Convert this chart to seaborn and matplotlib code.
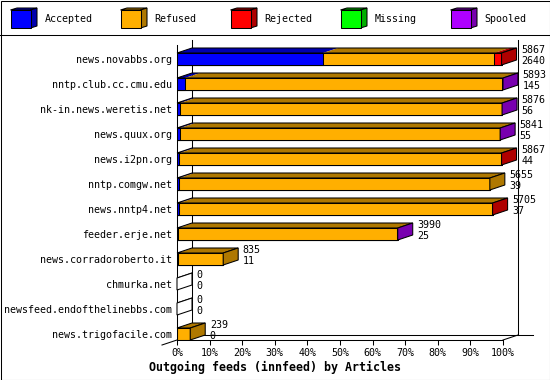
import numpy as np
import pandas as pd
import matplotlib
matplotlib.use("Agg")
import matplotlib.pyplot as plt
import seaborn as sns
from matplotlib.patches import Polygon, Rectangle
from matplotlib.lines import Line2D

# ---------------- data ----------------
hosts = ["news.novabbs.org", "nntp.club.cc.cmu.edu", "nk-in.news.weretis.net",
         "news.quux.org", "news.i2pn.org", "nntp.comgw.net", "news.nntp4.net",
         "feeder.erje.net", "news.corradoroberto.it", "chmurka.net",
         "newsfeed.endofthelinebbs.com", "news.trigofacile.com"]
accepted = [2640, 145, 56, 55, 44, 39, 37, 25, 11, 0, 0, 0]
refused  = [3097, 5723, 5815, 5783, 5818, 5616, 5663, 3960, 824, 0, 0, 239]
rejected = [130, 0, 0, 0, 5, 0, 5, 0, 0, 0, 0, 0]
missing  = [0, 0, 0, 0, 0, 0, 0, 0, 0, 0, 0, 0]
spooled  = [0, 25, 5, 3, 0, 0, 0, 5, 0, 0, 0, 0]
categories = ["Accepted", "Refused", "Rejected", "Missing", "Spooled"]
colors = ["#0000FF", "#FFAF00", "#FF0000", "#00FF00", "#AF00FF"]
dark_colors = ["#0000AF", "#AF7800", "#AF0000", "#00AF00", "#7800AF"]
tick_values = [0, 10, 20, 30, 40, 50, 60, 70, 80, 90, 100]
title = "Outgoing feeds (innfeed) by Articles"

# ---------------- setup ----------------
plt.rcParams['font.family'] = ['DejaVu Sans Mono']
W, H = 550, 380
fig = plt.figure(figsize=(W / 100, H / 100), dpi=100)
fig.patch.set_facecolor("white")

# overlay for frame/legend in pixel coordinates
ov = fig.add_axes([0, 0, 1, 1], zorder=0)
ov.set_xlim(0, W)
ov.set_ylim(H, 0)
ov.axis("off")

# main axes: x 0..100 -> px 177..503 ; rows 25 px apart, row0 centre at y=59
x0px, x1px = 177, 503
ytop_px, ybot_px = 45, 340
ax = fig.add_axes([x0px / W, (H - ybot_px) / H, (x1px - x0px) / W, (ybot_px - ytop_px) / H], zorder=1)
ax.set_facecolor("none")

M = np.array([accepted, refused, rejected, missing, spooled], dtype=float).T
totals = M.sum(axis=1)
scale = 100.0 / totals.max()
cum = np.cumsum(M, axis=1) * scale

LW = 0.75
# stacked horizontal bars (front faces) via seaborn, longest first
for k in reversed(range(len(categories))):
    df = pd.DataFrame({"host": hosts, "value": cum[:, k]})
    sns.barplot(data=df, x="value", y="host", orient="h", color=colors[k],
                saturation=1, width=0.48, edgecolor="black", linewidth=LW,
                errorbar=None, ax=ax, zorder=2)

ddx = 15 * 100 / (x1px - x0px)   # depth in x units
ddy = 5 / 25.0                   # depth in row units
hh = 0.24

for i in range(len(hosts)):
    top, bot = i - hh, i + hh
    end = cum[i, -1]
    prev = 0.0
    last = None
    for k in range(len(categories)):
        x1 = cum[i, k]
        if x1 > prev:
            ax.add_patch(Polygon([(prev, top), (x1, top), (x1 + ddx, top - ddy), (prev + ddx, top - ddy)],
                                 closed=True, fc=dark_colors[k], ec="none", zorder=3, clip_on=False))
            last = k
        prev = x1
    ax.add_patch(Polygon([(0, top), (end, top), (end + ddx, top - ddy), (ddx, top - ddy)],
                         closed=True, fc="none", ec="black", lw=LW, zorder=4, clip_on=False))
    ax.add_patch(Polygon([(end, top), (end + ddx, top - ddy), (end + ddx, bot - ddy), (end, bot)],
                         closed=True, fc=dark_colors[last] if last is not None else "white",
                         ec="black", lw=LW, zorder=4, clip_on=False))
    tx = end + ddx + 1.4
    ax.text(tx, i - 0.36, f"{int(totals[i])}", ha="left", va="center", fontsize=7.2, zorder=5)
    ax.text(tx, i + 0.08, f"{int(accepted[i])}", ha="left", va="center", fontsize=7.2, zorder=5)

# back walls / floor
yb_front = 11 + hh
yb_back = yb_front - ddy
ytop_wall = (40 - 59) / 25.0
kw = dict(color="black", lw=LW, zorder=0.5, clip_on=False)
ax.add_line(Line2D([ddx, ddx], [ytop_wall, yb_back], **kw))
ax.add_line(Line2D([100 + ddx, 100 + ddx], [ytop_wall, yb_back], **kw))
ax.add_line(Line2D([ddx, 100 + 2 * ddx], [yb_back, yb_back], **kw))
ax.add_line(Line2D([100, 100 + ddx], [yb_front, yb_back], **kw))
ax.add_line(Line2D([-ddx, 0], [yb_front + ddy, yb_front], **kw))

ax.set_xlim(0, 100)
ax.set_ylim(yb_front, (ytop_px - 59) / 25.0)
ax.set_xticks(tick_values)
ax.set_xticklabels([f"{v}%" for v in tick_values])
ax.set_xlabel("")
ax.set_ylabel("")
for s in ["top", "right"]:
    ax.spines[s].set_visible(False)
for s in ["left", "bottom"]:
    ax.spines[s].set_linewidth(LW)
    ax.spines[s].set_color("black")
ax.tick_params(axis="x", length=3.6, width=LW, pad=2, labelsize=7.2, colors="black")
ax.tick_params(axis="y", length=0, pad=3.8, labelsize=7.2, colors="black")

# title
fig.text(275 / W, 1 - 367 / H, title, ha="center", va="center", fontsize=8.4,
         fontweight="bold", color="black")

# legend (3D boxes)
leg_x = [10.5, 120.5, 230.5, 340.5, 450.5]
for k, name in enumerate(categories):
    bx = leg_x[k]
    ov.add_patch(Polygon([(bx, 10), (bx + 20, 10), (bx + 26.5, 8), (bx + 6.5, 8)], closed=True,
                         fc=dark_colors[k], ec="black", lw=LW))
    ov.add_patch(Polygon([(bx + 20, 10), (bx + 26.5, 8), (bx + 26.5, 26), (bx + 20, 28)], closed=True,
                         fc=dark_colors[k], ec="black", lw=LW))
    ov.add_patch(Rectangle((bx, 10), 20, 18, fc=colors[k], ec="black", lw=LW))
    ov.text(bx + 34, 19.5, name, ha="left", va="center", fontsize=7.2, color="black")

# separator and border
ov.add_line(Line2D([0, W], [35, 35], color="black", lw=LW))
ov.add_patch(Rectangle((0.5, 0.5), W - 1, H - 1, fc="none", ec="black", lw=LW))

fig.savefig("out.png", dpi=100, facecolor="white")
